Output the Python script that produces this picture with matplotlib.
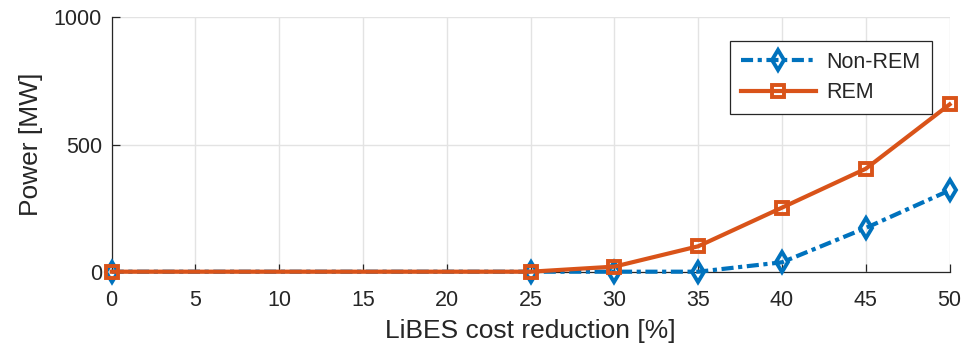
import matplotlib
matplotlib.use("Agg")
import matplotlib.pyplot as plt

plt.rcParams['font.family'] = ['Liberation Sans', 'DejaVu Sans']

cost_reduction = [0, 25, 30, 35, 40, 45, 50]
non_rem = [0, 0, 0, 0, 37, 172, 320]
rem = [0, 0, 20, 100, 252, 405, 658]
xticks = [0, 5, 10, 15, 20, 25, 30, 35, 40, 45, 50]
yticks = [0, 500, 1000]

blue = '#0072BD'
orange = '#D95319'
ink = '#262626'

fig = plt.figure(figsize=(9.66, 3.54), dpi=100)
ax = fig.add_axes([0.1156, 0.2325, 0.983 - 0.1156, 0.9506 - 0.2325])

ax.plot(cost_reduction, non_rem, linestyle='-.', color=blue, linewidth=3,
        marker='d', markersize=10, markerfacecolor='none', markeredgewidth=2.8,
        label='Non-REM', dashes=(2.9, 1.1, 1.0, 1.1), clip_on=False, zorder=3)
ax.plot(cost_reduction, rem, linestyle='-', color=orange, linewidth=3,
        marker='s', markersize=9, markerfacecolor='none', markeredgewidth=2.8,
        label='REM', clip_on=False, zorder=4)

ax.set_xlim(0, 50)
ax.set_ylim(0, 1000)
ax.set_xticks(xticks)
ax.set_yticks(yticks)
ax.tick_params(direction='in', labelsize=15.5, colors=ink, length=6, width=0.9)
ax.tick_params(axis='x', pad=13)
ax.tick_params(axis='y', pad=7)
for s in ['top', 'right']:
    ax.spines[s].set_visible(False)
for s in ['left', 'bottom']:
    ax.spines[s].set_color(ink)
    ax.spines[s].set_linewidth(0.9)
ax.grid(True, color='#e3e3e3', linewidth=1.0)
ax.set_axisbelow(True)

ax.set_xlabel('LiBES cost reduction [%]', fontsize=19, color=ink, labelpad=6)
ax.set_ylabel('Power [MW]', fontsize=19, color=ink, labelpad=8)

leg = ax.legend(loc='upper right', bbox_to_anchor=(0.9785, 0.9076), fontsize=15.5,
                fancybox=False, framealpha=1, edgecolor=ink,
                handlelength=3.5, handletextpad=0.5, borderpad=0.5,
                labelspacing=0.45, borderaxespad=0)
leg.get_frame().set_linewidth(0.9)
for t in leg.get_texts():
    t.set_color(ink)

fig.savefig('out.png', dpi=100)
